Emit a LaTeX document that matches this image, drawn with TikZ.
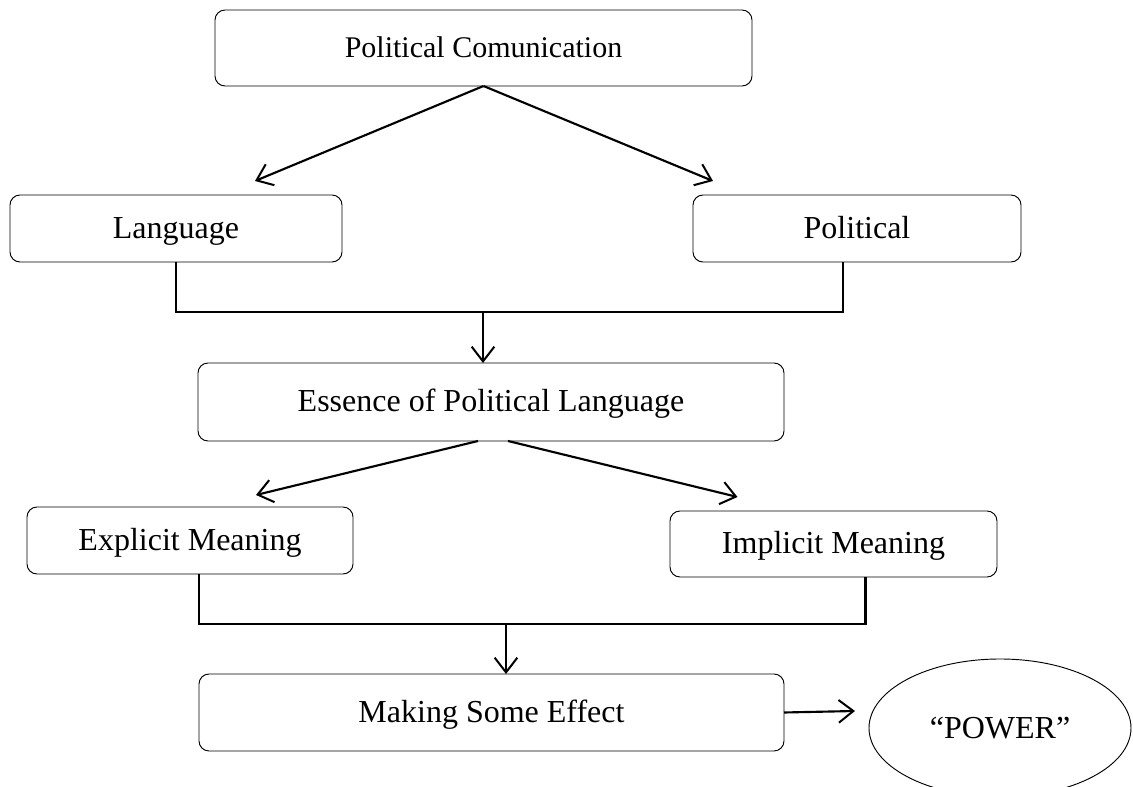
\documentclass[tikz,border=0pt]{standalone}
\usepackage{fontspec}
\setmainfont{Liberation Serif}
\usetikzlibrary{arrows.meta,shapes.geometric}

\begin{document}
\begin{tikzpicture}[x=0.75pt, y=-0.75pt, font=\fontsize{24}{28}\selectfont,
  box/.style={draw=black, line width=0.7pt, rounded corners=7.5pt, align=center, outer sep=0pt, inner sep=0pt,
              text height=17pt, text depth=2.5pt},
  oval/.style={draw=black, line width=0.7pt, ellipse, inner sep=0pt, outer sep=0pt},
  arr/.style={-{Straight Barb[length=11pt, width=17pt, line width=1.5pt]}, line width=1.6pt},
  link/.style={line width=1.6pt}]
\useasboundingbox (0,0) rectangle (1133,787);
\clip (0,0) rectangle (1133,787);

% ---------------- top level: communication splits into two
\node[box, minimum width=402.75pt, minimum height=57pt, font=\fontsize{22.5}{27}\selectfont] (comm) at (483.5,48) {Political Comunication};
\node[box, minimum width=249pt, minimum height=50.25pt] (lang) at (176,228.5) {Language};
\node[box, minimum width=246pt, minimum height=50.25pt] (pol) at (857,228.5) {Political};
\draw[arr] (comm.south) -- ([shift={(79,-14)}]lang.north);
\draw[arr] (comm.south) -- ([shift={(-144,-14)}]pol.north);

% ---------------- joined into the essence
\node[box, minimum width=439.5pt, minimum height=58.5pt] (ess) at (491,402) {Essence of Political Language};
\coordinate (j1) at (483,312);
\draw[link] (lang.south) |- (j1) -| ([shift={(-14,0)}]pol.south);
\draw[arr, line width=1.3pt] (j1) -- (j1 |- ess.north);

% ---------------- two kinds of meaning
\node[box, minimum width=244.5pt, minimum height=50.25pt] (expl) at (190,540.5) {Explicit Meaning};
\node[box, minimum width=245.25pt, minimum height=49.5pt] (impl) at (833.5,544) {Implicit Meaning};
\draw[arr] ([shift={(-13,0)}]ess.south) -- ([shift={(66,-12)}]expl.north);
\draw[arr] ([shift={(17,0)}]ess.south) -- ([shift={(-96,-14)}]impl.north);

% ---------------- effect and power
\node[box, minimum width=438.75pt, minimum height=57.75pt] (eff) at (491.5,712.5) {Making Some Effect};
\node[oval, minimum width=196.5pt, minimum height=103.5pt] (pow) at (1000,728) {“POWER”};
\coordinate (j2) at (506,624);
\draw[link] ([shift={(9,0)}]expl.south) |- (j2) -| ([shift={(32,0)}]impl.south);
\draw[arr, line width=1.3pt] (j2) -- (j2 |- eff.north);
\draw[arr] (eff.east) -- ([shift={(-14,-17)}]pow.west);
\end{tikzpicture}
\end{document}
